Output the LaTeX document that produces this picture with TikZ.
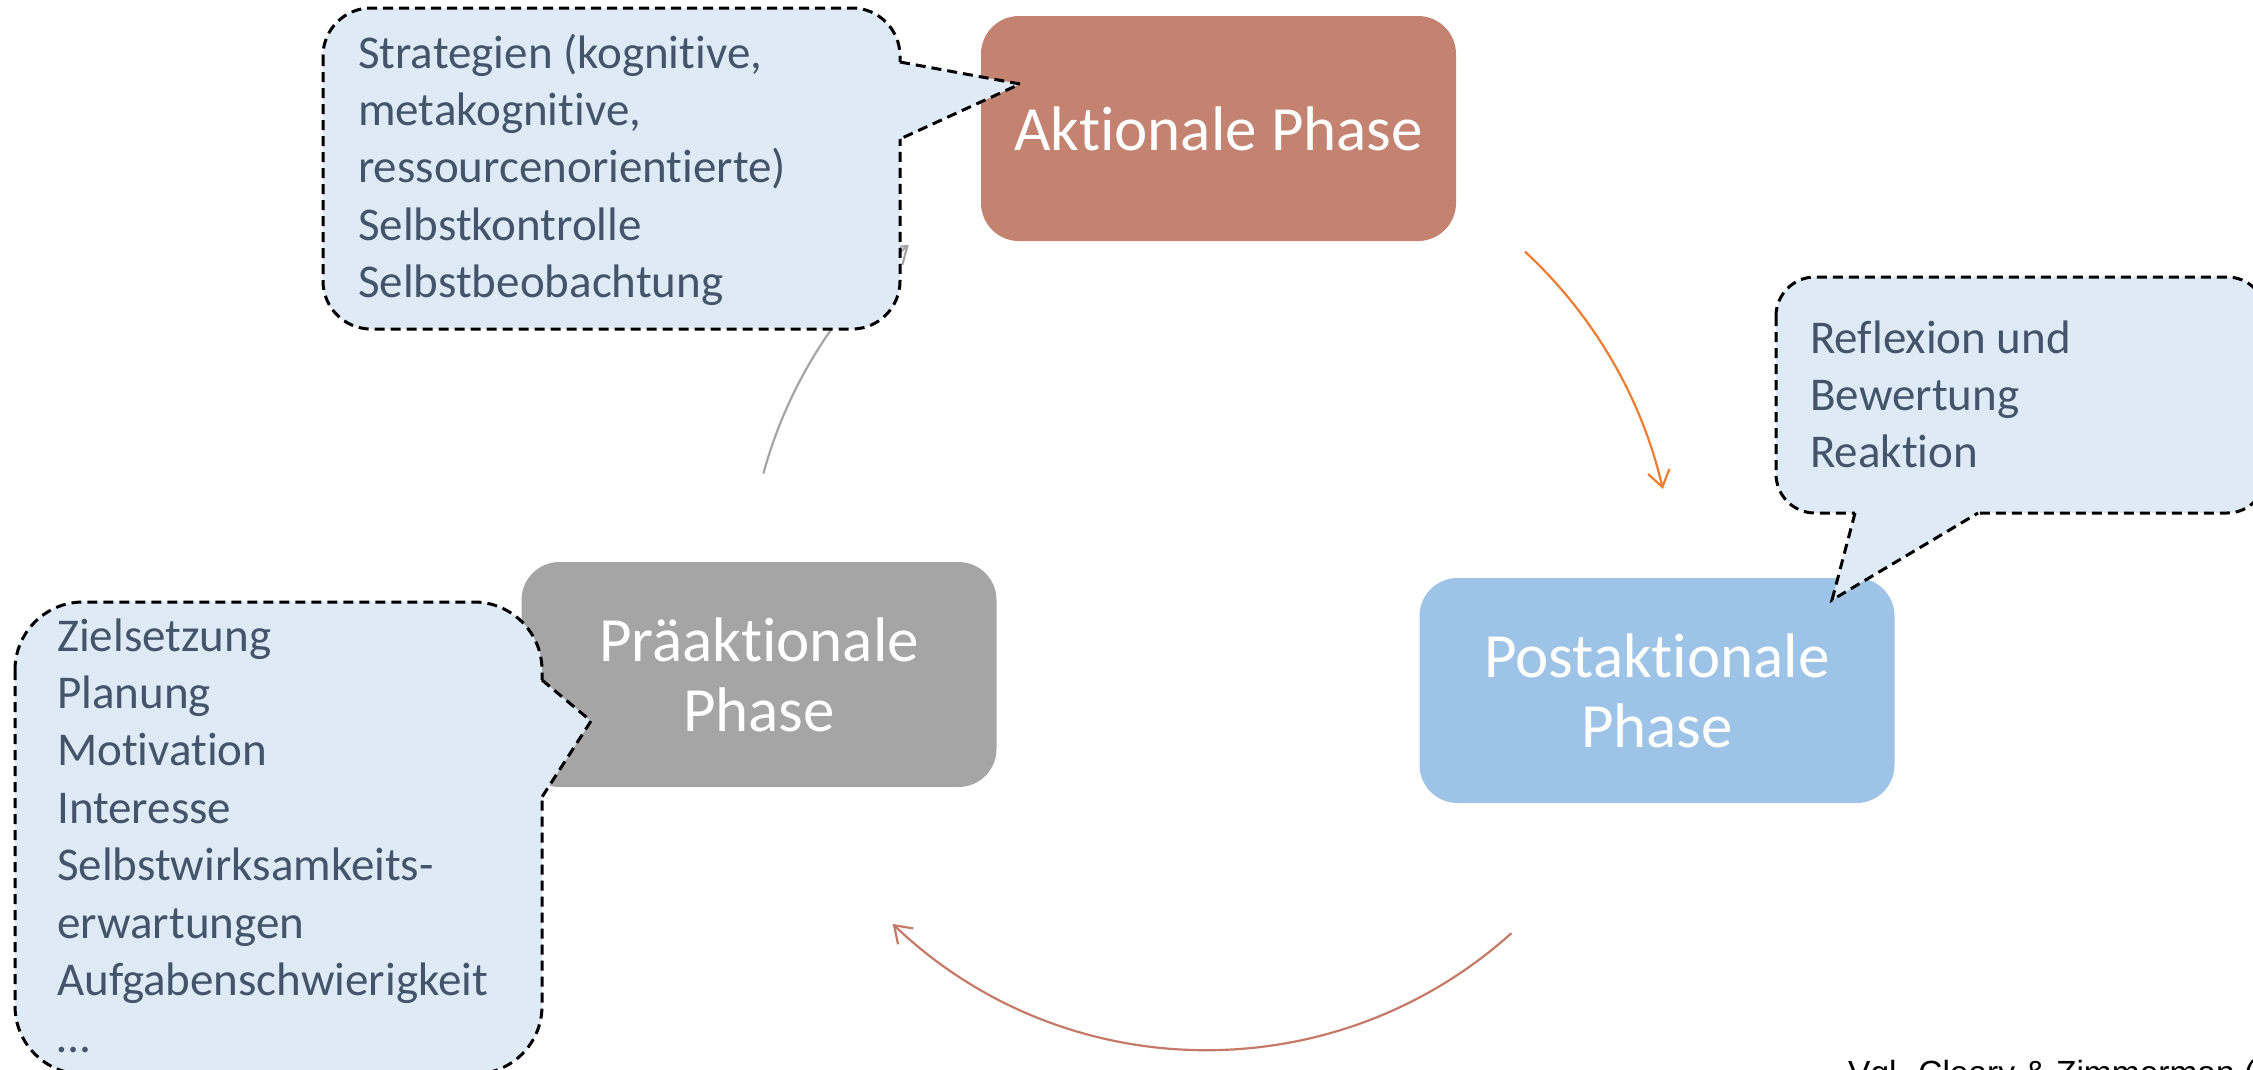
\documentclass[tikz,border=0pt]{standalone}
\usepackage{fontspec}
\setmainfont{Carlito}[Ligatures={NoCommon}]
\newfontfamily\vglfont{Liberation Sans}
\usepackage{xcolor}
\usetikzlibrary{arrows.meta,positioning}

\definecolor{aktcol}{HTML}{C48270}
\definecolor{praecol}{HTML}{A5A5A5}
\definecolor{postcol}{HTML}{9DC3E6}
\definecolor{bubblefill}{HTML}{DEEAF6}
\definecolor{bubbletextcol}{HTML}{44546A}
\definecolor{orangecol}{HTML}{ED7D31}
\definecolor{backcol}{HTML}{C47A66}

\tikzset{
  phase/.style={rounded corners=38pt, minimum width=475pt, minimum height=225pt, inner sep=0pt,
    text=white, align=center, font=\fontsize{63}{70}\selectfont},
  bubble/.style={fill=bubblefill, draw=black, line width=3pt, dash pattern=on 10pt off 6pt},
  bubbleedge/.style={draw=black, line width=3pt, dash pattern=on 10pt off 6pt},
  bubbletext/.style={anchor=base west, inner sep=0pt, text=bubbletextcol, font=\fontsize{47}{57.4}\selectfont},
  cyc/.style={line width=2.2pt, -{Straight Barb[length=16pt,width=22pt]}},
}

\begin{document}
\begin{tikzpicture}[x=1pt, y=-1pt]
    \useasboundingbox (0,0) rectangle (2253,1069);
    \clip (0,0) rectangle (2253,1069);

    % the three phases
    \node[phase, fill=aktcol] (akt) at (1218.5,128.5) {Aktionale Phase};
    \node[phase, fill=praecol] (prae) at (759,674.5) {Präaktionale\\Phase};
    \node[phase, fill=postcol] (post) at (1657,690.5) {Postaktionale\\Phase};

    % cycle arrows, all on one circle round the middle
    \coordinate (mid) at (1207,595);
    \draw[cyc, orangecol] (mid) ++(-47.2:468) arc[start angle=-47.2, end angle=-13.1, radius=468];
    \draw[cyc, backcol] (mid) ++(48:455) arc[start angle=48, end angle=133.7, radius=455];
    \draw[cyc, praecol] (mid) ++(-164.7:460) arc[start angle=-164.7, end angle=-130.4, radius=460];

    % callout at Aktionale Phase
    \draw[bubble, rounded corners=48pt] (323,8) rectangle (900,329);
    \fill[bubblefill] (886,62) -- (900,62) -- (1020,84) -- (900,139) -- (886,139) -- cycle;
    \draw[bubbleedge] (900,62) -- (1020,84) -- (900,139);
    \node[bubbletext] (strat) at (358,68) {\begin{tabular}[t]{@{}l@{}}
        Strategien (kognitive,\\ metakognitive,\\ ressourcenorientierte)\\
        Selbstkontrolle\\ Selbstbeobachtung\end{tabular}};

    % callout at Postaktionale Phase (runs off the right side)
    \draw[bubble, rounded corners=39pt] (1776,277) rectangle (2266,513);
    \fill[bubblefill] (1855,500) -- (1855,513) -- (1832,600) -- (1978,513) -- (1978,500) -- cycle;
    \draw[bubbleedge] (1855,513) -- (1832,600) -- (1978,513);
    \node[bubbletext] (refl) at (1810,353) {\begin{tabular}[t]{@{}l@{}}
        Reflexion und\\ Bewertung\\ Reaktion\end{tabular}};

    % callout at Praeaktionale Phase (runs off the bottom)
    \draw[bubble, rounded corners=68pt] (15,602) rectangle (542,1074);
    \fill[bubblefill] (528,680) -- (542,680) -- (591,721) -- (542,797) -- (528,797) -- cycle;
    \draw[bubbleedge] (542,680) -- (591,721) -- (542,797);
    \node[bubbletext] (ziel) at (57,651) {\begin{tabular}[t]{@{}l@{}}
        Zielsetzung\\ Planung\\ Motivation\\ Interesse\\
        Selbstwirksamkeits-\\ erwartungen\\ Aufgabenschwierigkeit\\ …\end{tabular}};

    % source, cut off by the frame
    \node[anchor=base west, inner sep=0pt, font=\vglfont\fontsize{33.5}{40}\selectfont] (quelle)
        at (1848,1084) {Vgl. Cleary \& Zimmerman (};
\end{tikzpicture}
\end{document}
